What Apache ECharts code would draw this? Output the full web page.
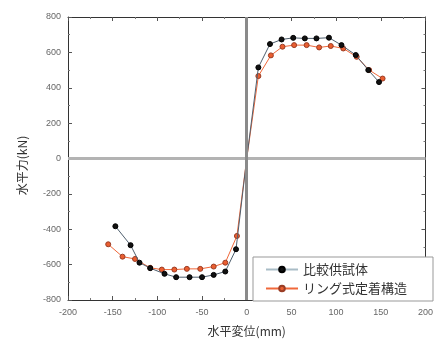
<!DOCTYPE html>
<html><head><meta charset="utf-8">
<script src="https://cdn.jsdelivr.net/npm/echarts@6/dist/echarts.min.js"></script>
<style>html,body{margin:0;padding:0;background:#fff}#c{width:436px;height:345px}</style>
</head><body><div id="c"></div>
<script>
const seriesNames = ['比較供試体', 'リング式定着構造'];
const xName = '水平変位(mm)';
const yName = '水平力(kN)';
const xTicks = [-200, -150, -100, -50, 0, 50, 100, 150, 200];
const yTicks = [-800, -600, -400, -200, 0, 200, 400, 600, 800];

const blackX = [-147, -130, -120, -108, -92, -79, -64, -50, -37, -24, -12, 0, 13, 26, 39, 52, 65, 78, 92, 106, 122, 136, 148];
const blackY = [-383, -490, -589, -620, -652, -671, -671, -671, -658, -639, -513, 0, 515, 647, 673, 682, 679, 679, 683, 641, 585, 500, 432];
const orangeX = [-155, -139, -125, -108, -95, -81, -67, -52, -37, -24, -11, 0, 13, 27, 40, 53, 67, 81, 94, 108, 123, 137, 152];
const orangeY = [-485, -555, -568, -618, -628, -628, -624, -624, -611, -589, -438, 0, 466, 583, 632, 641, 641, 628, 636, 622, 575, 500, 452];

const font = "'Noto Sans CJK JP', 'Noto Sans', sans-serif";
const pair = (xs, ys) => xs.map((x, i) => [x, ys[i]]);
const symSize = v => (v[0] === 0 && v[1] === 0) ? 0 : 5;

const chart = echarts.init(document.getElementById('c'), null, {renderer: 'canvas'});
const axisLbl = {fontSize: 9, color: '#666', fontFamily: 'Liberation Sans'};
chart.setOption({
  animation: false,
  backgroundColor: '#fff',
  grid: {left: 68, right: 4, top: 17, bottom: 45},
  xAxis: [{
    type: 'value', min: xTicks[0], max: xTicks[xTicks.length - 1], interval: 50,
    position: 'bottom',
    axisLine: {onZero: false, lineStyle: {color: '#333', width: 1}},
    axisTick: {inside: true, length: 4, lineStyle: {color: '#555'}},
    minorTick: {show: true, splitNumber: 2, length: 2, lineStyle: {color: '#777'}},
    splitLine: {show: false},
    axisLabel: Object.assign({margin: 8}, axisLbl),
    name: xName, nameLocation: 'middle', nameGap: 25,
    nameTextStyle: {fontSize: 12, color: '#333', fontFamily: font}
  }, {
    type: 'value', min: -200, max: 200, interval: 50, position: 'top',
    axisLine: {onZero: false, lineStyle: {color: '#333', width: 1}},
    axisTick: {inside: true, length: 4, lineStyle: {color: '#555'}},
    minorTick: {show: true, splitNumber: 2, length: 2, lineStyle: {color: '#777'}},
    splitLine: {show: false}, axisLabel: {show: false}
  }],
  yAxis: [{
    type: 'value', min: yTicks[0], max: yTicks[yTicks.length - 1], interval: 200,
    position: 'left',
    axisLine: {show: true, onZero: false, lineStyle: {color: '#333', width: 1}},
    axisTick: {show: true, inside: true, length: 4, lineStyle: {color: '#555'}},
    minorTick: {show: true, splitNumber: 2, length: 2, lineStyle: {color: '#777'}},
    splitLine: {show: false},
    axisLabel: Object.assign({margin: 7}, axisLbl),
    name: yName, nameLocation: 'middle', nameGap: 40,
    nameTextStyle: {fontSize: 12, color: '#333', fontFamily: font, padding: [0, 14, 0, 0]}
  }, {
    type: 'value', min: -800, max: 800, interval: 200, position: 'right',
    axisLine: {show: true, onZero: false, lineStyle: {color: '#333', width: 1}},
    axisTick: {show: true, inside: true, length: 4, lineStyle: {color: '#555'}},
    minorTick: {show: true, splitNumber: 2, length: 2, lineStyle: {color: '#777'}},
    splitLine: {show: false}, axisLabel: {show: false}
  }],
  legend: {
    left: 253, top: 257, orient: 'vertical',
    padding: [5, 26, 5, 12], itemGap: 4, itemWidth: 32, itemHeight: 7,
    backgroundColor: '#fff', borderColor: '#999', borderWidth: 1,
    textStyle: {fontSize: 13, color: '#333', fontFamily: font, lineHeight: 15},
    data: [
      {name: seriesNames[0], lineStyle: {color: '#a9bcc6'}},
      {name: seriesNames[1]}
    ]
  },
  series: [{
    type: 'line', name: '_zero', data: [], silent: true, z: 1,
    markLine: {
      silent: true, symbol: 'none', label: {show: false}, animation: false,
      data: [
        {yAxis: 0, lineStyle: {color: '#b3b3b3', width: 3, type: 'solid'}},
        {xAxis: 0, lineStyle: {color: '#8a8a8a', width: 3, type: 'solid'}}
      ]
    }
  }, {
    type: 'line', name: seriesNames[1], z: 3,
    data: pair(orangeX, orangeY),
    symbol: 'circle', symbolSize: symSize,
    lineStyle: {color: '#f0683a', width: 1},
    itemStyle: {color: '#ea5e30', borderColor: '#9a3d25', borderWidth: 1}
  }, {
    type: 'line', name: seriesNames[0], z: 4,
    data: pair(blackX, blackY),
    symbol: 'circle', symbolSize: symSize,
    lineStyle: {color: '#4f5f6e', width: 1},
    itemStyle: {color: '#111', borderColor: '#000', borderWidth: 1}
  }]
});
</script></body></html>
